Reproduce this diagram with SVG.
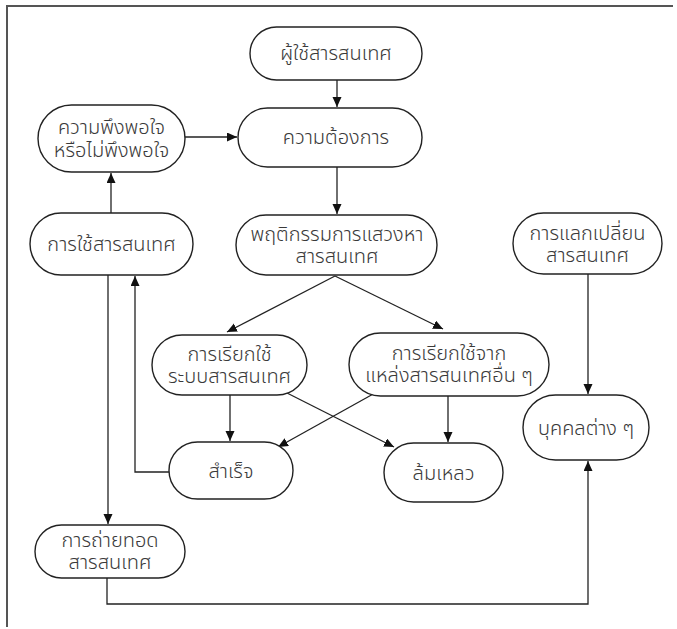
<svg xmlns="http://www.w3.org/2000/svg" width="677" height="629" viewBox="0 0 677 629">
<style>
.frame{fill:none;stroke:#555;stroke-width:2}
.node rect{fill:#fff;stroke:#222;stroke-width:1.4}
.node text{font-family:"Noto Sans Thai","Noto Sans","DejaVu Sans",sans-serif;font-size:20px;font-weight:300;fill:#3a3a3a;text-anchor:middle}
.edge{fill:none;stroke:#222;stroke-width:1.3}
</style>
<defs>
<marker id="ah" markerUnits="userSpaceOnUse" markerWidth="11" markerHeight="10" refX="10" refY="4.5" orient="auto">
<path d="M0,0 L10,4.5 L0,9 z" fill="#111"/>
</marker>
</defs>
<rect width="677" height="629" fill="#fff"/>
<path class="frame" d="M7,627 V6 H673"/>
<g id="connectors">
<path class="edge" d="M337,80 V107" marker-end="url(#ah)"/>
<path class="edge" d="M337,167 V214" marker-end="url(#ah)"/>
<path class="edge" d="M185,137 H237" marker-end="url(#ah)"/>
<path class="edge" d="M111,213 V173" marker-end="url(#ah)"/>
<path class="edge" d="M335,276 L227,332" marker-end="url(#ah)"/>
<path class="edge" d="M335,276 L443,329" marker-end="url(#ah)"/>
<path class="edge" d="M230,395 V441" marker-end="url(#ah)"/>
<path class="edge" d="M287,393 L394,447" marker-end="url(#ah)"/>
<path class="edge" d="M375,393 L278,447" marker-end="url(#ah)"/>
<path class="edge" d="M448,396 V442" marker-end="url(#ah)"/>
<path class="edge" d="M169,472 H135 V276" marker-end="url(#ah)"/>
<path class="edge" d="M108,275 V524" marker-end="url(#ah)"/>
<path class="edge" d="M107,578 V604 H588 V461" marker-end="url(#ah)"/>
<path class="edge" d="M588,274 V394" marker-end="url(#ah)"/>
</g>
<g id="n1" class="node"><rect x="250" y="27" width="172" height="53" rx="26.5"/><text x="336" y="60">ผู้ใช้สารสนเทศ</text></g>
<g id="n2" class="node"><rect x="238" y="108" width="184" height="59" rx="29.5"/><text x="336" y="144">ความต้องการ</text></g>
<g id="n3" class="node"><rect x="236" y="215" width="201" height="60" rx="30"/><text x="337" y="241"><tspan x="337">พฤติกรรมการแสวงหา</tspan><tspan x="337" dy="22">สารสนเทศ</tspan></text></g>
<g id="n4" class="node"><rect x="38" y="105" width="147" height="67" rx="33.5"/><text x="111.5" y="134"><tspan x="111.5">ความพึงพอใจ</tspan><tspan x="111.5" dy="23">หรือไม่พึงพอใจ</tspan></text></g>
<g id="n5" class="node"><rect x="30" y="213" width="163" height="62" rx="31"/><text x="111.5" y="251">การใช้สารสนเทศ</text></g>
<g id="n6" class="node"><rect x="513" y="213" width="149" height="61" rx="30.5"/><text x="587.5" y="240"><tspan x="587.5">การแลกเปลี่ยน</tspan><tspan x="587.5" dy="22">สารสนเทศ</tspan></text></g>
<g id="n7" class="node"><rect x="523" y="395" width="126" height="65" rx="32.5"/><text x="586" y="435">บุคคลต่าง ๆ</text></g>
<g id="n8" class="node"><rect x="152" y="335" width="155" height="60" rx="30"/><text x="229.5" y="361"><tspan x="229.5">การเรียกใช้</tspan><tspan x="229.5" dy="22">ระบบสารสนเทศ</tspan></text></g>
<g id="n9" class="node"><rect x="349" y="333" width="200" height="63" rx="31.5"/><text x="449" y="360"><tspan x="449">การเรียกใช้จาก</tspan><tspan x="449" dy="22">แหล่งสารสนเทศอื่น ๆ</tspan></text></g>
<g id="n10" class="node"><rect x="169" y="442" width="124" height="57" rx="28.5"/><text x="231" y="478">สำเร็จ</text></g>
<g id="n11" class="node"><rect x="384" y="443" width="119" height="59" rx="29.5"/><text x="443.5" y="480">ล้มเหลว</text></g>
<g id="n12" class="node"><rect x="35" y="525" width="150" height="53" rx="26.5"/><text x="110" y="547"><tspan x="110">การถ่ายทอด</tspan><tspan x="110" dy="22">สารสนเทศ</tspan></text></g>
</svg>
